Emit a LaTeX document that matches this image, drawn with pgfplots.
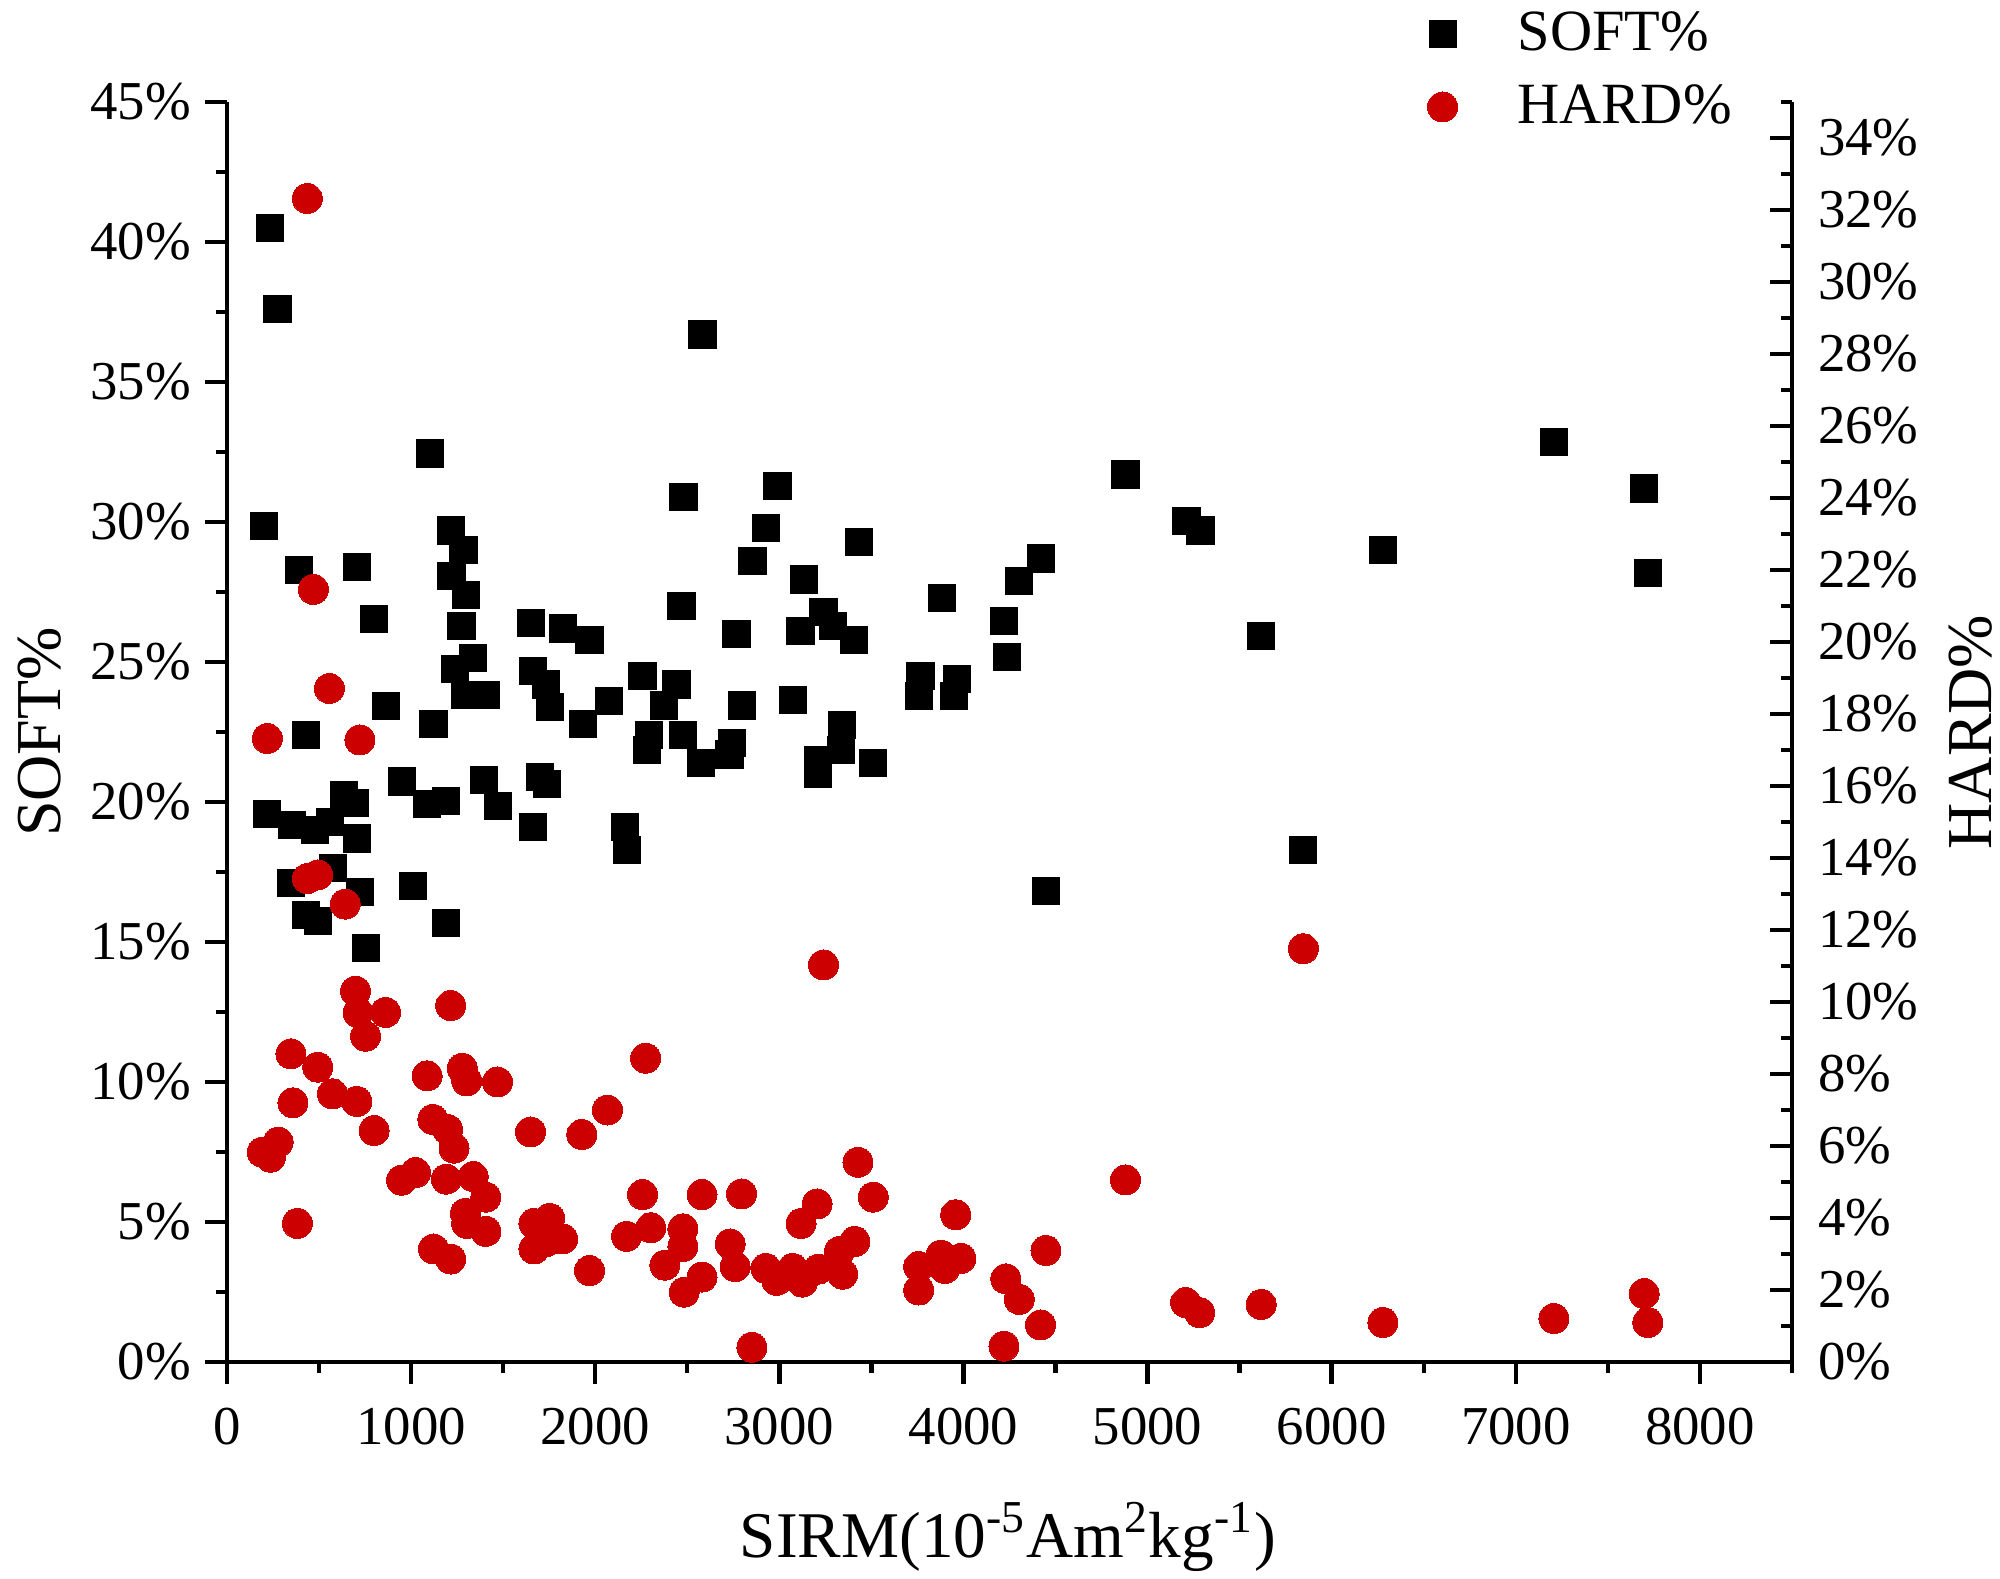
\documentclass[border=0pt]{standalone}
\usepackage{fontspec}
\setmainfont{Liberation Serif}
\usepackage{pgfplots}
\pgfplotsset{compat=1.18}
\definecolor{hardred}{RGB}{204,0,0}

\pgfplotstableread{
x y
233 40.5
274 37.6
2583 36.7
1104 32.45
201 29.85
389 28.3
705 28.4
799 26.55
1215 29.7
1285 29.0
1219 28.06
1299 27.4
1274 26.28
1337 25.15
1240 24.76
1295 23.83
1406 23.83
865 23.43
427 22.4
1122 22.8
1653 26.4
1823 26.2
1969 25.8
1663 24.67
1733 24.2
1753 23.4
1934 22.8
2073 23.6
2257 24.5
2441 24.2
2372 23.45
2292 22.4
2281 21.87
2476 22.4
2576 21.4
2479 30.9
2469 27.0
2990 31.3
2927 29.8
2854 28.6
2767 26.0
2799 23.45
2743 22.1
2729 21.7
3073 23.65
3132 27.95
3115 26.1
3240 26.8
3292 26.3
3406 25.8
3434 29.3
3340 22.76
3333 21.85
3212 21.5
3212 21.0
3507 21.4
3767 24.5
3760 23.8
3882 27.3
3965 24.4
3948 23.8
4220 26.47
4238 25.17
4303 27.9
4419 28.7
4448 16.82
4880 31.7
5211 30.05
5287 29.7
5617 25.94
5846 18.3
6278 29.0
7207 32.85
7697 31.2
7717 28.18
219 19.58
351 19.18
478 19.0
559 19.3
636 20.25
695 19.97
708 18.7
577 17.63
348 17.1
722 16.8
429 15.96
493 15.76
755 14.8
1009 17.0
1190 15.67
949 20.73
1085 19.93
1188 20.05
1398 20.8
1470 19.87
1700 20.88
1740 20.64
1660 19.1
2162 19.1
2171 18.3
}\softdata

\pgfplotstableread{
x y
436 32.32
469 21.46
556 18.71
219 17.32
722 17.28
437 13.43
493 13.53
642 12.72
698 10.3
712 9.71
753 9.05
861 9.71
1215 9.9
347 8.56
493 8.19
358 7.2
573 7.45
705 7.24
799 6.43
1087 7.95
1278 8.16
1302 7.81
1469 7.78
1118 6.74
1198 6.46
1233 5.94
191 5.83
236 5.69
278 6.11
382 3.85
948 5.05
1024 5.26
1191 5.08
1337 5.15
1406 4.58
1295 4.13
1302 3.85
1406 3.63
1122 3.14
1215 2.86
1649 6.39
1927 6.32
2066 7.0
2274 8.44
2257 4.65
1667 3.85
1753 3.99
1667 3.14
1736 3.35
1823 3.42
1969 2.54
2170 3.49
2302 3.73
2378 2.69
2476 3.70
2476 3.21
2483 1.94
2580 2.36
2580 4.65
2795 4.67
2733 3.28
2760 2.65
2927 2.60
2986 2.27
3073 2.60
3125 2.22
3118 3.85
3205 4.39
3240 11.03
3212 2.58
3344 2.44
3326 3.07
3410 3.35
3427 5.55
3510 4.58
2851 0.41
3757 2.00
3757 2.65
3878 2.97
3899 2.60
3986 2.88
3958 4.09
4230 2.31
4220 0.44
4303 1.74
4419 1.03
4448 3.10
4880 5.06
5207 1.65
5283 1.37
5617 1.60
5846 11.48
6278 1.10
7207 1.21
7697 1.90
7717 1.10
}\harddata

\pgfplotsset{
  common/.style={
    at={(56.75pt,54pt)}, anchor=south west,
    scale only axis, width=391.25pt, height=315pt,
    xmin=0, xmax=8500,
    axis line style={line width=1.1pt, black},
    tick style={line width=1.1pt, black},
    major tick length=5.5pt, minor tick length=2.7pt,
    tick label style={font=\fontsize{13.7}{16}\selectfont},
    /pgf/number format/.cd, 1000 sep={}, fixed, precision=0, assume math mode=true,
  },
}

\begin{document}
\begin{tikzpicture}
\path[use as bounding box] (0,0) rectangle (500pt,394.5pt);
\begin{axis}[common,
  ymin=0, ymax=45,
  axis x line*=bottom, axis y line*=left,
  tick align=outside,
  xtick={0,1000,...,8000}, minor xtick={500,1500,...,8500},
  ytick={0,5,...,45}, minor ytick={2.5,7.5,...,42.5},
  yticklabel={\pgfmathprintnumber{\tick}\%},
  xticklabel style={yshift=-2.5pt},
  xlabel={SIRM(10\textsuperscript{-5}Am\textsuperscript{2}kg\textsuperscript{-1})},
  ylabel={SOFT\%},
  every axis x label/.style={at={(axis description cs:0.499,-0.139)}, anchor=center, font=\fontsize{16.3}{19}\selectfont},
  every axis y label/.style={at={(axis description cs:-0.120,0.5)}, anchor=center, rotate=90, font=\fontsize{16}{19}\selectfont},
]
\addplot[only marks, mark=square*, mark size=3.4pt, mark options={fill=black, draw=black, line width=0pt}] table[x=x,y=y] {\softdata};
\end{axis}
\begin{axis}[common,
  ymin=0, ymax=35,
  axis x line=none, axis y line*=right,
  tick align=inside,
  ytick={0,2,...,34}, minor ytick={1,3,...,35},
  yticklabel={\pgfmathprintnumber{\tick}\%},
  yticklabel style={xshift=3pt},
  ylabel={HARD\%},
  every axis y label/.style={at={(axis description cs:1.114,0.5)}, anchor=center, rotate=90, font=\fontsize{16}{19}\selectfont},
  legend style={at={(0.759,1.085)}, anchor=north west, draw=none, fill=none,
    font=\fontsize{14.6}{17}\selectfont, row sep=3pt, column sep=13pt},
  legend cell align=left,
]
\addlegendimage{only marks, mark=square*, mark size=3.4pt, mark options={fill=black, draw=black, line width=0pt}}
\addlegendentry{SOFT\%}
\addplot[only marks, mark=*, mark size=3.75pt, mark options={fill=hardred, draw=hardred, line width=0pt}] table[x=x,y=y] {\harddata};
\addlegendentry{HARD\%}
\end{axis}
\end{tikzpicture}
\end{document}
